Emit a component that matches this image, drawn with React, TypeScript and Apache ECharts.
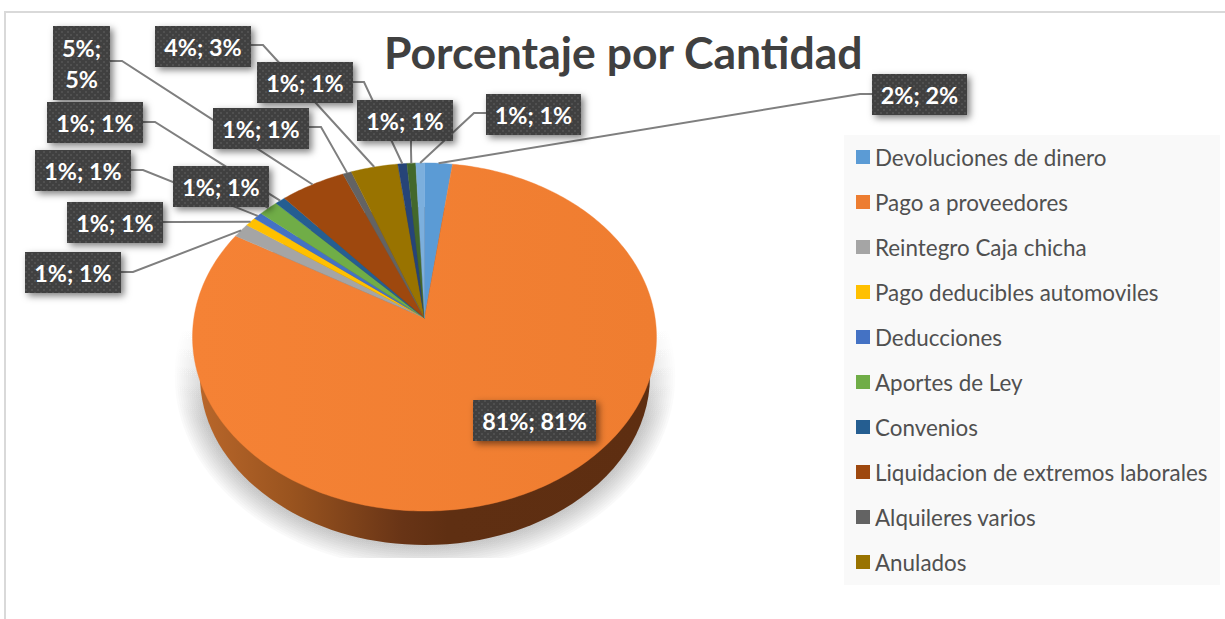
import React, { useEffect, useRef } from "react";
import * as echarts from "echarts";

const chartTitle = "Porcentaje por Cantidad";
const sliceNames = [
  "Devoluciones de dinero", "Pago a proveedores", "Reintegro Caja chicha", "Pago deducibles automoviles",
  "Deducciones", "Aportes de Ley", "Convenios", "Liquidacion de extremos laborales", "Alquileres varios",
  "Anulados", "Categoria 11", "Categoria 12", "Categoria 13",
];
const legendNames = sliceNames.slice(0, 10);
const sliceValues = [2.15, 81.25, 1.33, 0.86, 0.69, 1.5, 0.8, 5.06, 0.67, 3.64, 0.7, 0.68, 0.67];
const sliceLabels = [
  "2%; 2%", "81%; 81%", "1%; 1%", "1%; 1%", "1%; 1%", "1%; 1%", "1%; 1%",
  "5%;\n5%", "1%; 1%", "4%; 3%", "1%; 1%", "1%; 1%", "1%; 1%",
];
const sliceColors = [
  "#5B9BD5", "#ED7D31", "#A5A5A5", "#FFC000", "#4472C4", "#70AD47", "#255E91",
  "#9E480E", "#636363", "#997300", "#264478", "#43682B", "#7CAFDD",
];

// Label box layout: [x, y, width, height], then the leader's start and elbow (null = no leader)
const boxes: number[][] = [
  [872, 74, 95, 41], [473, 400, 123, 41], [25, 252, 96, 41], [67, 202, 96, 41], [35, 150, 96, 41],
  [173, 166, 96, 41], [47, 102, 96, 41], [53, 26, 57, 74], [213, 108, 96, 41], [155, 26, 96, 41],
  [257, 62, 96, 41], [357, 100, 96, 41], [486, 94, 95, 41],
];
const leaders: (number[] | null)[] = [
  [872, 94, 860, 94], null, [121, 272, 133, 272], [163, 222, 175, 222], [131, 170, 143, 170],
  [250, 190, 256, 200], [143, 122, 155, 122], [110, 61, 122, 61], [309, 127, 321, 127], [251, 45, 263, 45],
  [353, 82, 364, 82], [411, 141, 411, 150], [486, 113, 474, 113],
];

// Perspective projection of the pie's top face
const CX = 424.5, CY = 318, A = 230.6, B = 172, K = 0.109;
function project(deg: number): number[] {
  const t = (deg * Math.PI) / 180;
  const u = Math.sin(t), v = Math.cos(t), w = 1 + K * v;
  return [CX + (A * u) / w, CY - (B * v) / w];
}

const total = sliceValues.reduce((a, b) => a + b, 0);
let running = 0;
const sliceAngles = sliceValues.map((v) => {
  const s = (running / total) * 360;
  running += v;
  return [s, (running / total) * 360];
});

function makeDots(): HTMLCanvasElement {
  const c = document.createElement("canvas");
  c.width = 6; c.height = 6;
  const g = c.getContext("2d")!;
  g.fillStyle = "#404040"; g.fillRect(0, 0, 6, 6);
  g.fillStyle = "#505050";
  g.fillRect(1, 1, 2, 2); g.fillRect(4, 4, 2, 2);
  return c;
}

export default function App() {
  const ref = useRef<HTMLDivElement>(null);
  useEffect(() => {
    const chart = echarts.init(ref.current!, undefined, { renderer: "svg" });
    const dots = makeDots();

    // Soft ground shadow: stacked translucent ellipses that fade out toward the top
    const shadowLayers = Array.from({ length: 12 }, (_, k) => {
      const alpha = 0.022;
      return {
        type: "ellipse", z2: 1,
        shape: { cx: 425, cy: 376, rx: 226 + 2.2 * k, ry: 169 + 2.2 * k },
        style: {
          fill: { type: "linear", x: 0, y: 0, x2: 0, y2: 1, colorStops: [
            { offset: 0, color: "rgba(0,0,0,0)" }, { offset: 0.36, color: "rgba(0,0,0,0)" },
            { offset: 0.62, color: `rgba(0,0,0,${alpha})` }, { offset: 1, color: `rgba(0,0,0,${alpha})` } ] },
        },
      };
    });

    const baseSeries: any = {
      type: "custom", name: "base", coordinateSystem: "none", z: 1, silent: true,
      data: [[0]],
      renderItem: () => ({
        type: "group",
        children: [
          ...shadowLayers,
          { type: "rect", z2: 2, shape: { x: 150, y: 558, width: 560, height: 61 }, style: { fill: "#fff" } },
          {
            type: "ellipse", z2: 3,
            shape: { cx: 425, cy: 376, rx: 225, ry: 169 },
            style: {
              fill: { type: "linear", x: 0, y: 0, x2: 1, y2: 0, colorStops: [
                { offset: 0, color: "#B8662A" }, { offset: 0.2, color: "#9A541F" },
                { offset: 0.45, color: "#683416" }, { offset: 0.55, color: "#5F2F12" }, { offset: 1, color: "#5E2E11" } ] },
            },
          },
        ],
      }),
    };

    const sliceSeries = sliceNames.map((name, i) => ({
      type: "custom", name, coordinateSystem: "none", z: 2, silent: true,
      itemStyle: { color: sliceColors[i] },
      data: [sliceAngles[i]],
      renderItem: (_p: any, api: any) => {
        const s = api.value(0), e = api.value(1);
        const pts = [[CX, CY]];
        const n = Math.max(2, Math.ceil(e - s));
        for (let k = 0; k <= n; k++) pts.push(project(s + ((e - s) * k) / n));
        const fill = i === 1
          ? { type: "linear", x: 0, y: 0, x2: 1, y2: 0, colorStops: [
              { offset: 0, color: "#F58235" }, { offset: 1, color: "#EF7D30" } ] }
          : sliceColors[i];
        return {
          type: "polygon", shape: { points: pts },
          style: { fill, stroke: i === 1 ? "#F27F32" : sliceColors[i], lineWidth: 0.4 },
        };
      },
    }));

    const labelSeries: any = {
      type: "custom", name: "labels", coordinateSystem: "none", z: 3, silent: true,
      data: sliceAngles,
      renderItem: (p: any, api: any) => {
        const i = p.dataIndex;
        const [x, y, w, h] = boxes[i];
        const lead = leaders[i];
        const children: any[] = [];
        if (lead) {
          const anchor = project((api.value(0) + api.value(1)) / 2);
          children.push({
            type: "polyline", z2: 1,
            shape: { points: [[lead[0], lead[1]], [lead[2], lead[3]], anchor] },
            style: { stroke: "#7F7F7F", lineWidth: 2, fill: "none" },
          });
        }
        children.push(
          {
            type: "rect", z2: 2, shape: { x, y, width: w, height: h },
            style: { fill: "#404040", shadowBlur: 7, shadowOffsetX: 3, shadowOffsetY: 3, shadowColor: "rgba(0,0,0,0.5)" },
          },
          {
            type: "rect", z2: 3, shape: { x, y, width: w, height: h },
            style: { fill: { image: dots, repeat: "repeat" } },
          },
          {
            type: "text", z2: 4,
            style: {
              x: x + w / 2, y: y + h / 2 + 0.5, text: sliceLabels[i], align: "center", verticalAlign: "middle",
              fontFamily: "Lato", fontWeight: "bold", fontSize: 23.4, lineHeight: 31, fill: "#fff",
            },
          },
        );
        return { type: "group", children };
      },
    };

    chart.setOption({
      animation: false,
      backgroundColor: "#fff",
      title: {
        text: chartTitle, left: 384, top: 29, padding: 0,
        textStyle: { fontFamily: "Lato", fontWeight: "bold", fontSize: 44.5, color: "#404040" },
      },
      legend: {
        data: legendNames, orient: "vertical", left: 856, top: 145, padding: 0,
        icon: "rect", itemWidth: 14, itemHeight: 14, itemGap: 21, selectedMode: false,
        textStyle: { fontFamily: "Lato", fontSize: 22.4, lineHeight: 24, color: "#505050" },
      },
      graphic: [
        { type: "rect", z: 0, silent: true, shape: { x: 5, y: 12, width: 1300, height: 800 }, style: { fill: "none", stroke: "#D9D9D9", lineWidth: 2 } },
        { type: "rect", z: 0, silent: true, shape: { x: 844, y: 135, width: 376, height: 450 }, style: { fill: "#F9F9F9" } },
      ],
      series: [baseSeries, ...sliceSeries, labelSeries],
    });
    return () => chart.dispose();
  }, []);
  return <div ref={ref} style={{ position: "fixed", left: 0, top: 0, width: 1225, height: 619 }} />;
}
